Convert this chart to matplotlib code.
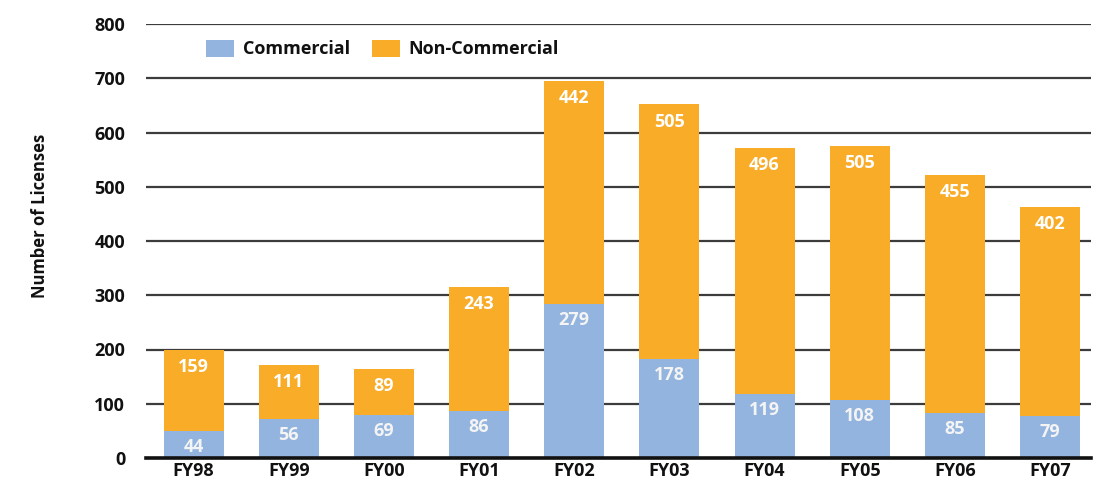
import matplotlib
matplotlib.use("Agg")
import matplotlib.pyplot as plt
import numpy as np

plt.rcParams['font.family'] = ['Open Sans', 'DejaVu Sans']

years = ["FY98", "FY99", "FY00", "FY01", "FY02", "FY03", "FY04", "FY05", "FY06", "FY07"]
# values printed on the bars
commercial_labels = [44, 56, 69, 86, 279, 178, 119, 108, 85, 79]
noncommercial_labels = [159, 111, 89, 243, 442, 505, 496, 505, 455, 402]
# segment heights as drawn in the picture
commercial_height = [49, 72, 80, 87, 284, 183, 118, 107, 83, 77]
total_height = [199, 172, 164, 316, 695, 652, 572, 576, 522, 463]
yticks = [0, 100, 200, 300, 400, 500, 600, 700, 800]

blue = "#93B4DE"
orange = "#F9AC28"

fig = plt.figure(figsize=(11.11, 4.91), dpi=100)
ax = fig.add_axes([146/1111, 1-458/491, (1091-146)/1111, (458-24)/491])

x = np.arange(len(years))
comm = np.array(commercial_height)
nonc = np.array(total_height) - comm
w = 0.63
ax.bar(x, comm, width=w, color=blue, label="Commercial", zorder=3)
ax.bar(x, nonc, width=w, bottom=comm, color=orange, label="Non-Commercial", zorder=3)

for i in range(len(years)):
    ax.annotate(str(commercial_labels[i]), (x[i], comm[i]), xytext=(0, -11.5),
                textcoords="offset points", ha="center", va="center",
                color="#F4F4F4", fontsize=13, fontweight="bold", zorder=4)
    ax.annotate(str(noncommercial_labels[i]), (x[i], total_height[i]), xytext=(0, -12.5),
                textcoords="offset points", ha="center", va="center",
                color="white", fontsize=13, fontweight="bold", zorder=4)

ax.set_xlim(-0.5, len(years) - 1 + 0.43)
ax.set_ylim(0, 800)
ax.set_yticks(yticks)
ax.set_xticks(x)
ax.set_xticklabels(years)
for s in ["top", "right", "left"]:
    ax.spines[s].set_visible(False)
ax.spines["bottom"].set_linewidth(2.6)
ax.spines["bottom"].set_color("#111111")
ax.spines["bottom"].set_zorder(5)
for t in yticks[1:]:
    ax.axhline(t, color="#3C3C3C", linewidth=1.6, zorder=1)
ax.tick_params(axis="both", length=0, labelsize=13)
ax.tick_params(axis="y", pad=15)
ax.tick_params(axis="x", pad=3)
for lab in ax.get_xticklabels() + ax.get_yticklabels():
    lab.set_fontweight("bold")
    lab.set_color("#111111")

fig.text(40/1111, 1-216/491, "Number of Licenses", rotation=90, ha="center", va="center",
         fontsize=12, fontweight="bold", color="#111111")

leg = ax.legend(loc="center left", bbox_to_anchor=(0.0635, 0.942), ncol=2, frameon=False,
                fontsize=13, handlelength=1.55, handleheight=1.05, handletextpad=0.5,
                columnspacing=1.2, borderpad=0, borderaxespad=0)
for t in leg.get_texts():
    t.set_fontweight("bold")
    t.set_color("#111111")

fig.savefig("out.png", dpi=100)
